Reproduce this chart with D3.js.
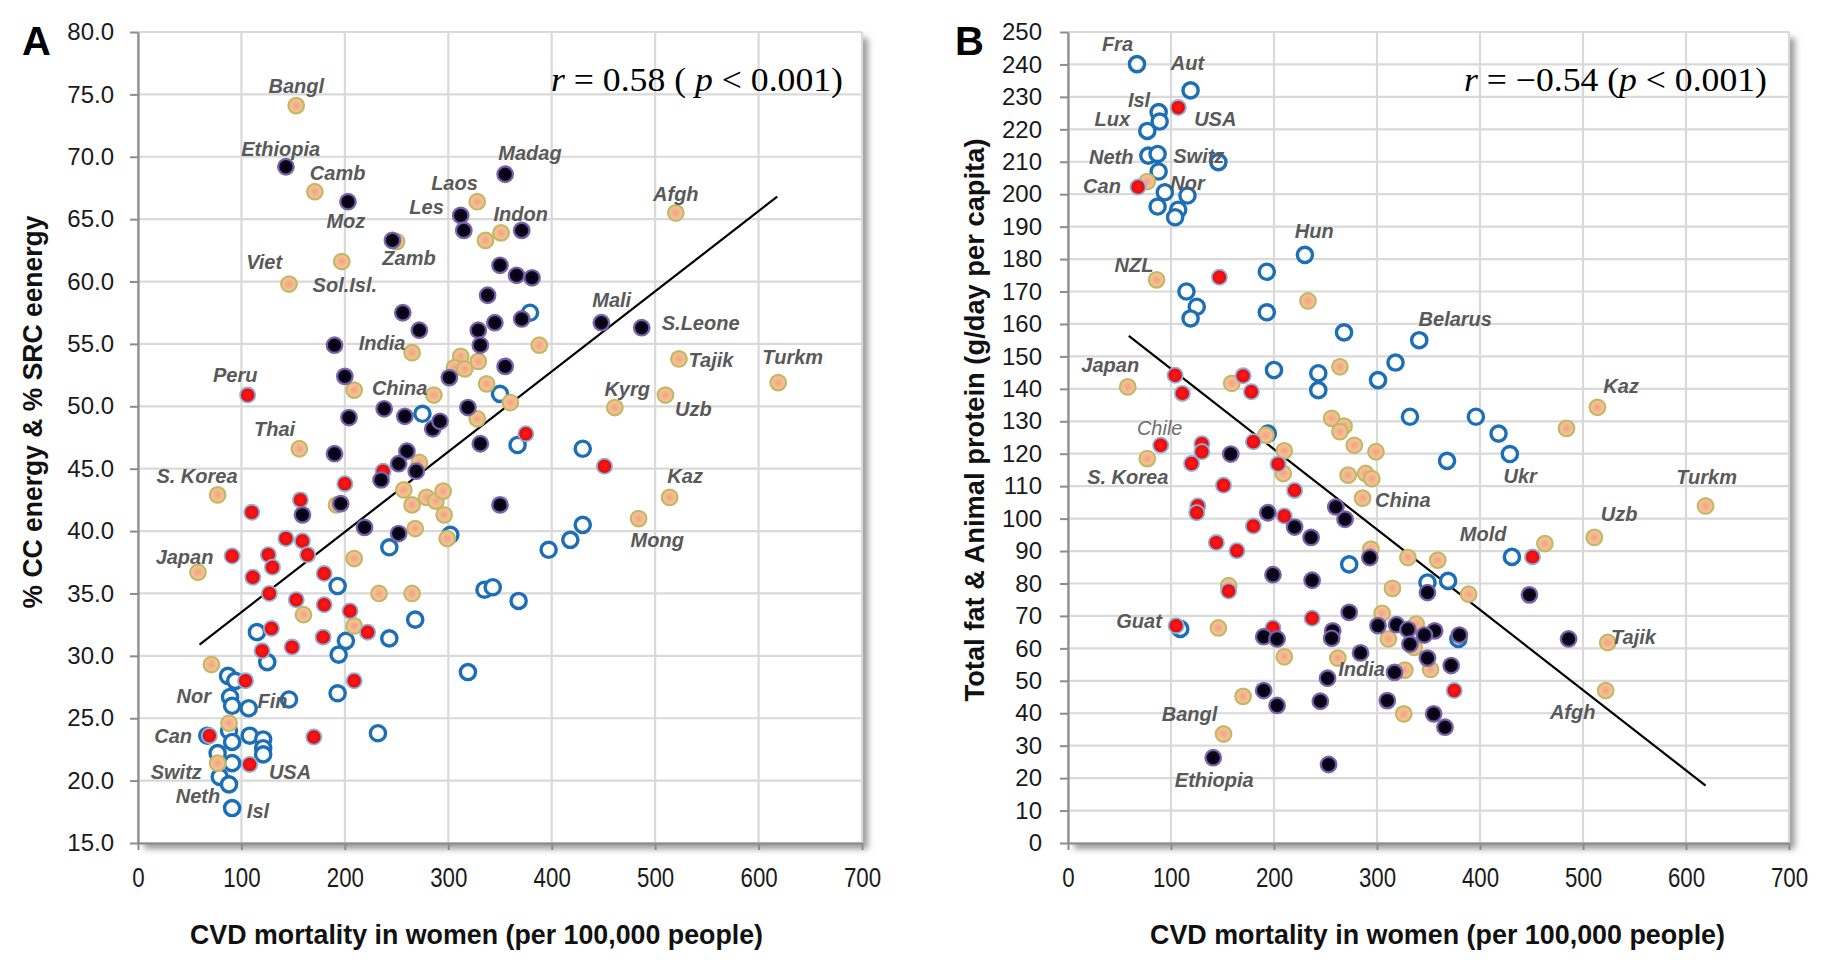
<!DOCTYPE html>
<html><head><meta charset="utf-8">
<script src="https://cdn.jsdelivr.net/npm/d3@7"></script>
<style>
html,body{margin:0;padding:0;background:#fff;}
svg{display:block;}
</style></head><body>
<svg id="chart" width="1832" height="968"></svg>
<script>
// ---------- data ----------
const xTicks = [0,100,200,300,400,500,600,700];
const yTicksA = [15,20,25,30,35,40,45,50,55,60,65,70,75,80];
const yTicksB = d3.range(0,251,10);

// Panel A: CVD mortality vs % CC energy & % SRC energy
const aBlue = [[379,57.5],[275,49.4],[350,51.0],[367,46.9],[430,46.6],[430,40.5],[418,39.3],[397,38.5],[302,39.7],[243,38.7],[193,35.6],[335,35.3],[343,35.5],[368,34.4],[268,32.9],[115,31.9],[243,31.4],[201,31.2],[194,30.1],[125,29.5],[319,28.7],[87,28.4],[94,28.0],[193,27.0],[146,26.5],[89,26.7],[91,26.0],[107,25.8],[232,23.8],[67,23.6],[88,24.0],[91,23.1],[108,23.6],[121,23.3],[121,22.6],[121,22.1],[77,22.2],[91,21.4],[79,20.3],[88,19.7],[91,17.8]];
const aTan = [[153,74.1],[171,67.2],[197,61.6],[146,59.8],[250,63.2],[328,66.4],[351,63.9],[336,63.3],[520,65.5],[265,54.3],[388,54.9],[312,54.0],[329,53.6],[306,53.1],[316,53.0],[209,51.3],[286,50.9],[337,51.8],[360,50.3],[328,49.0],[523,53.8],[619,51.9],[461,49.9],[510,50.9],[156,46.6],[272,45.5],[514,42.7],[484,41.0],[77,42.9],[192,42.1],[265,42.1],[279,42.7],[288,42.4],[295,43.2],[296,41.3],[268,40.2],[299,39.4],[257,43.3],[58,36.7],[209,37.8],[233,35.0],[265,35.0],[160,33.3],[209,32.4],[71,29.3],[88,24.6],[77,21.4]];
const aRed = [[106,50.9],[375,47.8],[451,45.2],[237,44.8],[200,43.8],[157,42.5],[110,41.5],[143,39.4],[159,39.2],[91,38.0],[126,38.1],[130,37.1],[164,38.1],[111,36.3],[180,36.6],[127,35.0],[153,34.5],[180,34.1],[205,33.6],[129,32.2],[179,31.5],[222,31.9],[120,30.4],[149,30.7],[104,28.0],[209,28.0],[170,23.5],[69,23.6],[108,21.3]];
const aBlack = [[143,69.2],[203,66.4],[355,68.6],[246,63.3],[312,65.3],[315,64.1],[371,64.1],[350,61.3],[366,60.5],[381,60.3],[338,58.9],[256,57.5],[272,56.1],[448,56.7],[487,56.3],[371,57.0],[345,56.7],[329,56.1],[331,54.9],[190,54.9],[200,52.4],[301,52.3],[355,53.2],[204,49.1],[238,49.8],[258,49.2],[319,49.9],[285,48.2],[292,48.8],[190,46.2],[260,46.4],[331,47.0],[252,45.4],[269,44.8],[235,44.1],[196,42.2],[159,41.3],[219,40.3],[252,39.8],[350,42.1]];
const aLabels = [["Bangl",153,75.7],["Ethiopia",138,70.6],["Camb",193,68.7],["Madag",379,70.3],["Laos",306,67.9],["Les",279,66.0],["Indon",370,65.4],["Moz",201,64.9],["Afgh",520,67.0],["Zamb",262,61.9],["Viet",122,61.6],["Sol.Isl.",200,59.7],["Mali",458,58.5],["S.Leone",544,56.7],["India",236,55.1],["Tajik",554,53.7],["Turkm",633,54.0],["Peru",94,52.5],["China",253,51.5],["Kyrg",473,51.4],["Uzb",537,49.8],["Thai",132,48.2],["S. Korea",57,44.4],["Kaz",529,44.4],["Mong",502,39.3],["Japan",45,37.9],["Nor",54,26.8],["Fin",130,26.4],["Can",34,23.6],["Switz",37,20.7],["USA",147,20.7],["Neth",58,18.8],["Isl",116,17.6]];
const aTrend = [[59.5,30.9],[618,66.8]];

// Panel B: CVD mortality vs total fat & animal protein
const bBlue = [[67,240.1],[119,232],[88,225.3],[89,222.4],[77,219.5],[78,211.9],[87,212.4],[146,209.9],[88,207],[94,200.6],[116,199.6],[87,196.2],[107,195.2],[104,192.9],[230,181.3],[193,176.1],[115,170],[125,165.3],[119,161.7],[193,163.6],[268,157.4],[341,155],[318,148.1],[200,145.8],[243,144.8],[243,139.6],[301,142.7],[332,131.4],[396,131.4],[418,126.2],[429,119.9],[368,117.8],[194,126.2],[273,85.9],[431,88.2],[349,80.3],[369,80.8],[379,62.9],[109,66]];
const bTan = [[86,173.6],[233,167.1],[77,203.9],[58,140.6],[159,141.7],[264,146.8],[256,130.9],[268,128.5],[264,126.8],[278,122.6],[299,120.6],[210,120.9],[192,125.7],[77,118.5],[272,113.4],[289,113.9],[295,112.3],[209,113.9],[514,134.3],[484,127.8],[286,106.3],[619,103.9],[511,94.2],[463,92.3],[294,90.6],[330,88.0],[359,87.2],[315,78.5],[389,76.7],[305,70.8],[338,67.5],[146,66.3],[311,62.9],[336,60.3],[210,57.4],[262,57.0],[327,53.3],[352,53.5],[524,61.8],[522,47.0],[170,45.2],[326,39.8],[151,33.6],[156,79.3]];
const bRed = [[107,226.7],[68,202.2],[147,174.4],[104,144.2],[111,138.6],[170,144],[178,139.1],[90,122.6],[130,123.1],[130,120.6],[180,123.7],[120,117],[204,116.8],[151,110.3],[220,108.7],[126,103.9],[125,101.8],[210,100.8],[180,97.7],[144,92.6],[164,90.1],[451,88.2],[156,77.7],[237,69.3],[105,67.0],[199,66.3],[375,47.0]];
const bBlack = [[158,119.9],[260,103.6],[194,101.8],[269,99.8],[220,97.4],[236,94.2],[293,88.0],[199,82.7],[237,81.0],[349,77.2],[448,76.5],[273,71.1],[301,67.0],[319,67.3],[330,65.8],[356,65.4],[346,64.1],[380,64.1],[190,63.6],[203,62.9],[257,65.4],[256,63.1],[332,61.3],[486,62.9],[284,58.6],[349,57.0],[372,54.7],[317,52.6],[252,50.8],[190,47.0],[203,42.4],[245,43.7],[310,43.9],[355,39.8],[366,35.7],[141,26.3],[253,24.2]];
const bLabels = [["Fra",48,246.3],["Aut",116,240.4],["Isl",69,229.1],["Lux",43,223.3],["USA",143,223.3],["Neth",42,211.4],["Switz",127,211.8],["Can",33,202.7],["Nor",116,203.6],["Hun",239,188.7],["NZL",64,178.2],["Belarus",376,161.7],["Japan",41,147.5],["Kaz",537,140.8],["Chile",89,128.0],["S. Korea",58,112.9],["Ukr",439,113.1],["Turkm",620,112.9],["China",325,105.9],["Uzb",535,101.5],["Mold",403,95.2],["Tajik",549,63.7],["Guat",69,68.5],["India",285,53.6],["Afgh",490,40.5],["Bangl",118,39.8],["Ethiopia",142,19.6]];
const bTrend = [[59,156.3],[619,17.7]];

// ---------- drawing ----------
const svg = d3.select("#chart");
const defs = svg.append("defs");
const sh = defs.append("filter").attr("id","shadow").attr("x","-5%").attr("y","-5%").attr("width","115%").attr("height","115%");
sh.append("feDropShadow").attr("dx",6).attr("dy",6).attr("stdDeviation",3).attr("flood-color","#7a7a7a").attr("flood-opacity",0.75);
const gT = defs.append("radialGradient").attr("id","gTan");
gT.append("stop").attr("offset","0%").attr("stop-color","#f2a085");
gT.append("stop").attr("offset","65%").attr("stop-color","#f6bd8e");
gT.append("stop").attr("offset","100%").attr("stop-color","#f8c794");
const gK = defs.append("radialGradient").attr("id","gBlack");
gK.append("stop").attr("offset","0%").attr("stop-color","#000008");
gK.append("stop").attr("offset","70%").attr("stop-color","#0b0820");
gK.append("stop").attr("offset","100%").attr("stop-color","#2a1f4a");
const gR = defs.append("radialGradient").attr("id","gRed");
gR.append("stop").attr("offset","0%").attr("stop-color","#ff1a1a");
gR.append("stop").attr("offset","80%").attr("stop-color","#e80c0c");
gR.append("stop").attr("offset","100%").attr("stop-color","#d01020");

const styles = {
  blue:  {fill:"#ffffff", stroke:"#1c6fb6", sw:3.4, r:7.6},
  tan:   {fill:"url(#gTan)", stroke:"#c2b86a", sw:2.2, r:7.8},
  red:   {fill:"url(#gRed)", stroke:"#8fb2d8", sw:1.8, r:7.6},
  black: {fill:"url(#gBlack)", stroke:"#7a64a8", sw:2.2, r:7.8}
};

function panel(cfg) {
  const x = d3.scaleLinear().domain([0,700]).range([cfg.left, cfg.right]);
  const y = d3.scaleLinear().domain(cfg.yDomain).range([cfg.bottom, cfg.top]);
  const g = svg.append("g");
  const y0 = cfg.yDomain[0], y1 = cfg.yDomain[1];

  g.append("rect").attr("x", x(0)).attr("y", y(y1))
    .attr("width", x(700)-x(0)).attr("height", y(y0)-y(y1))
    .attr("fill","#fff").attr("filter","url(#shadow)");

  g.append("g").selectAll("line").data(cfg.yTicks).join("line")
    .attr("x1", x(0)).attr("x2", x(700)).attr("y1", d=>y(d)).attr("y2", d=>y(d))
    .attr("stroke","#d9d9d9").attr("stroke-width",2.2);
  g.append("g").selectAll("line").data(xTicks).join("line")
    .attr("x1", d=>x(d)).attr("x2", d=>x(d)).attr("y1", y(y0)).attr("y2", y(y1))
    .attr("stroke","#d9d9d9").attr("stroke-width",2.2);

  const ax = g.append("g").attr("transform",`translate(0,${y(y0)})`)
    .call(d3.axisBottom(x).tickValues(xTicks).tickSize(7).tickSizeOuter(0).tickPadding(17));
  ax.select(".domain").attr("stroke","#8c8c8c").attr("stroke-width",2.2);
  ax.selectAll(".tick line").attr("stroke","#8c8c8c").attr("stroke-width",2);
  ax.selectAll(".tick text").attr("fill","#1a1a1a")
    .style("font-family","'Liberation Sans', Arial, sans-serif").style("font-size","28px")
    .attr("textLength", d => String(d).length*12.4).attr("lengthAdjust","spacingAndGlyphs");

  const ay = g.append("g").attr("transform",`translate(${x(0)},0)`)
    .call(d3.axisLeft(y).tickValues(cfg.yTicks).tickFormat(cfg.fmt).tickSize(8).tickSizeOuter(0).tickPadding(cfg.pad));
  ay.select(".domain").attr("stroke","#8c8c8c").attr("stroke-width",2.2);
  ay.selectAll(".tick line").attr("stroke","#8c8c8c").attr("stroke-width",2);
  ay.selectAll(".tick text").attr("fill","#1a1a1a")
    .style("font-family","'Liberation Sans', Arial, sans-serif").style("font-size","24px");

  // trend line
  g.append("path").datum(cfg.trend)
    .attr("d", d3.line().x(d=>x(d[0])).y(d=>y(d[1])))
    .attr("stroke","#000").attr("stroke-width",2.2).attr("fill","none");

  // points
  const groups = [["blue",cfg.blue],["tan",cfg.tan],["red",cfg.red],["black",cfg.black]];
  groups.forEach(([k, arr]) => {
    const s = styles[k];
    g.append("g").selectAll("circle").data(arr).join("circle")
      .attr("cx", d=>x(d[0])).attr("cy", d=>y(d[1])).attr("r", s.r)
      .attr("fill", s.fill).attr("stroke", s.stroke).attr("stroke-width", s.sw);
  });

  // country labels
  g.append("g").selectAll("text").data(cfg.labels).join("text")
    .attr("x", d=>x(d[1])).attr("y", d=>y(d[2])).attr("dy","0.36em")
    .attr("text-anchor","middle")
    .style("font-family","'Liberation Sans', Arial, sans-serif")
    .style("font-size","20px").style("font-style","italic")
    .style("font-weight", d => d[0]==="Chile" ? "normal" : "bold")
    .attr("fill", d => d[0]==="Chile" ? "#6e6e6e" : "#595959")
    .text(d=>d[0]);

  // axis titles
  svg.append("text").attr("x", cfg.xtX).attr("y", 944)
    .attr("textLength", cfg.xtW).attr("lengthAdjust","spacingAndGlyphs")
    .style("font-family","'Liberation Sans', Arial, sans-serif").style("font-size","28px").style("font-weight","bold")
    .attr("fill","#111").text("CVD mortality in women (per 100,000 people)");
  svg.append("text").attr("transform",`translate(${cfg.ytX},${cfg.ytY}) rotate(-90)`)
    .attr("text-anchor","middle")
    .attr("textLength", cfg.ytW).attr("lengthAdjust","spacingAndGlyphs")
    .style("font-family","'Liberation Sans', Arial, sans-serif").style("font-size","27px").style("font-weight","bold")
    .attr("fill","#111").text(cfg.ytitle);

  // panel letter
  svg.append("text").attr("x", cfg.letterX).attr("y", 55)
    .style("font-family","'Liberation Sans', Arial, sans-serif").style("font-size","40px").style("font-weight","bold")
    .attr("fill","#000").text(cfg.letter);

  // correlation annotation
  const t = svg.append("text").attr("x", cfg.rX).attr("y", 91)
    .attr("textLength", cfg.rW).attr("lengthAdjust","spacingAndGlyphs")
    .style("font-family","'Liberation Serif', 'DejaVu Serif', serif").style("font-size","33px").attr("fill","#000");
  cfg.rParts.forEach(([s, it]) => t.append("tspan").style("font-style", it ? "italic" : "normal").text(s));
}

panel({
  left:138, right:862, top:32, bottom:843, yDomain:[15,80], yTicks:yTicksA, fmt:d3.format(".1f"), pad:16,
  blue:aBlue, tan:aTan, red:aRed, black:aBlack, labels:aLabels, trend:aTrend,
  xtX:190, xtW:573, ytX:42, ytY:412, ytW:393, ytitle:"% CC energy & % SRC eenergy",
  letter:"A", letterX:22, rX:551, rW:292,
  rParts:[["r",true],[" = 0.58 ( ",false],["p",true],[" < 0.001)",false]]
});
panel({
  left:1068, right:1789, top:32, bottom:843, yDomain:[0,250], yTicks:yTicksB, fmt:d3.format("d"), pad:18,
  blue:bBlue, tan:bTan, red:bRed, black:bBlack, labels:bLabels, trend:bTrend,
  xtX:1150, xtW:575, ytX:984, ytY:420, ytW:563, ytitle:"Total fat & Animal protein (g/day per capita)",
  letter:"B", letterX:955, rX:1464, rW:303,
  rParts:[["r",true],[" = \u22120.54 (",false],["p",true],[" < 0.001)",false]]
});
</script>
</body></html>
